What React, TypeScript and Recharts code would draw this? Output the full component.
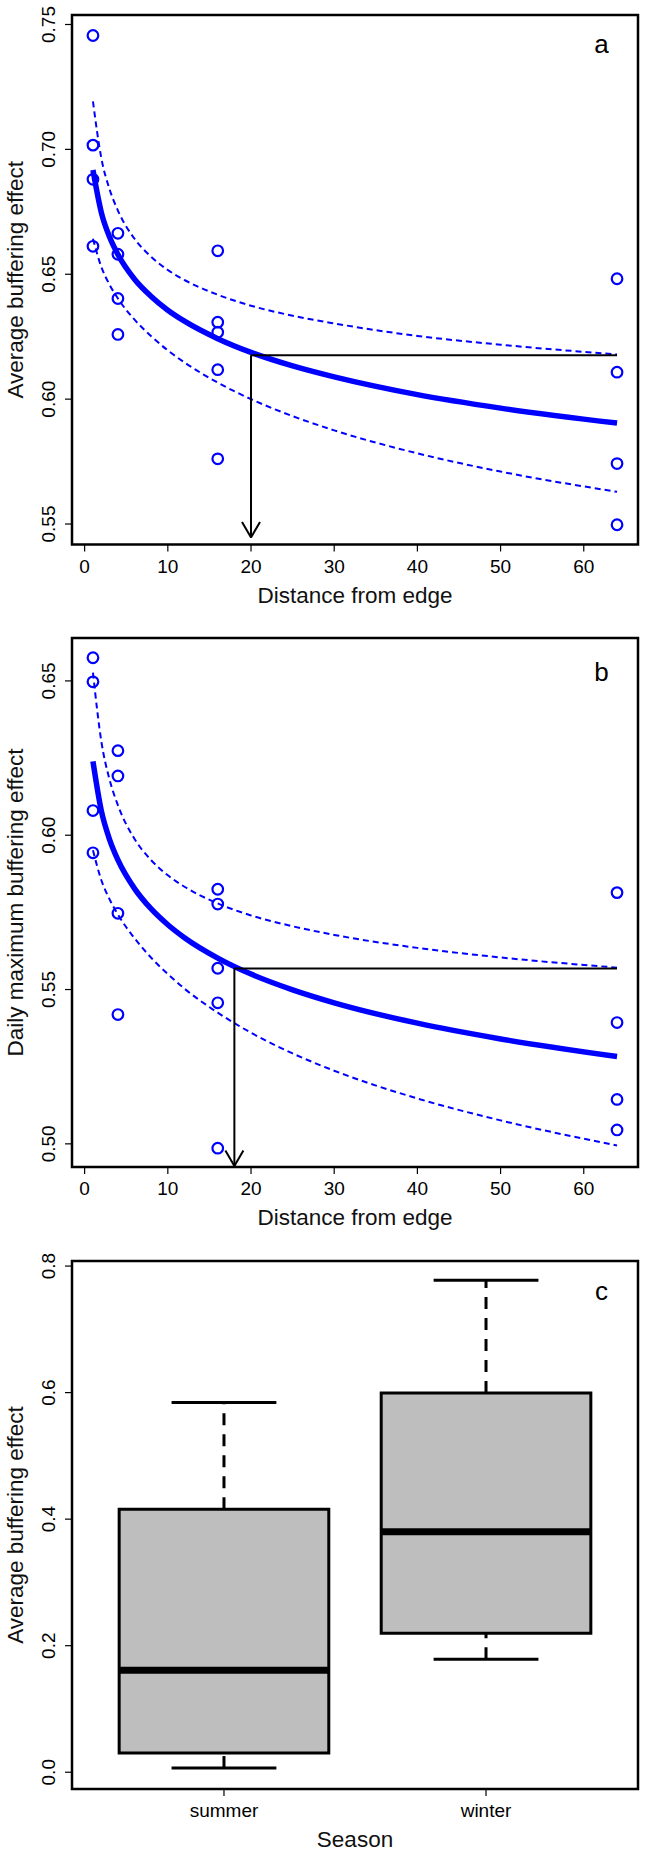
import { ComposedChart, Scatter, Line, XAxis, YAxis, ReferenceLine, ReferenceArea, Label } from 'recharts'

const FONT = '"Liberation Sans", Arial, Helvetica, sans-serif'
const BLUE = '#0000ff'

// observations, panel a (average buffering) and b (daily maximum buffering)
const AVG_X = [1, 1, 1, 1, 4, 4, 4, 4, 16, 16, 16, 16, 16, 64, 64, 64, 64]
const AVG_Y = [0.7456, 0.7017, 0.688, 0.6612, 0.6664, 0.658, 0.6403, 0.6259, 0.6594, 0.6308, 0.6268, 0.6118, 0.5761, 0.6482, 0.6108, 0.5742, 0.5497]
const MAX_X = [1, 1, 1, 1, 4, 4, 4, 4, 16, 16, 16, 16, 16, 64, 64, 64, 64]
const MAX_Y = [0.6575, 0.6497, 0.608, 0.5943, 0.6274, 0.6192, 0.5747, 0.5419, 0.5825, 0.5777, 0.5569, 0.5457, 0.4986, 0.5814, 0.5393, 0.5144, 0.5045]

// fitted curve and confidence band
const CURVE_X = [1, 2, 3, 4, 6, 8, 10, 12, 16, 20, 25, 30, 40, 50, 64]
const AVG_FIT = [0.6917, 0.6748, 0.6649, 0.6579, 0.648, 0.6411, 0.6356, 0.6312, 0.6242, 0.6187, 0.6133, 0.6089, 0.6018, 0.5964, 0.5904]
const AVG_UPPER = [0.7192, 0.6966, 0.684, 0.6755, 0.6642, 0.657, 0.6517, 0.6477, 0.6418, 0.6374, 0.6334, 0.6303, 0.6253, 0.6218, 0.6179]
const AVG_LOWER = [0.6642, 0.653, 0.6458, 0.6403, 0.6318, 0.6252, 0.6195, 0.6147, 0.6066, 0.6, 0.5932, 0.5875, 0.5783, 0.571, 0.5629]
const MAX_FIT = [0.6239, 0.608, 0.5986, 0.592, 0.5827, 0.5761, 0.571, 0.5668, 0.5602, 0.555, 0.5499, 0.5457, 0.5391, 0.534, 0.5283]
const MAX_UPPER = [0.6527, 0.6305, 0.618, 0.6097, 0.5988, 0.5919, 0.587, 0.5833, 0.5779, 0.574, 0.5705, 0.5677, 0.5635, 0.5604, 0.5571]
const MAX_LOWER = [0.5951, 0.5855, 0.5792, 0.5743, 0.5666, 0.5603, 0.555, 0.5503, 0.5425, 0.536, 0.5293, 0.5237, 0.5147, 0.5076, 0.4995]

// threshold arrows: [distance, level, arrow tip, end of horizontal]
const AVG_ARROW = [20, 0.6176, 0.5446, 64]
const MAX_ARROW = [18, 0.5568, 0.4928, 64]

const DIST_TICKS = [0, 10, 20, 30, 40, 50, 60]
const AVG_TICKS = [0.55, 0.6, 0.65, 0.7, 0.75]
const MAX_TICKS = [0.5, 0.55, 0.6, 0.65]

// panel c boxplot
const SEASONS = ['summer', 'winter']
const WHISK_LO = [0.0066, 0.1787]
const Q1 = [0.0303, 0.2196]
const MEDIAN = [0.161, 0.38]
const Q3 = [0.4155, 0.5995]
const WHISK_HI = [0.5843, 0.7776]
const SEASON_TICKS = [0, 0.2, 0.4, 0.6, 0.8]

const X_DOMAIN: [number, number] = [-1.52, 66.52]
const zip = (xs: number[], ys: number[]) => xs.map((x, i) => ({ x, y: ys[i] }))

function YTick({ x, y, payload, digits }: any) {
  return (
    <text x={x} y={y} transform={`rotate(-90, ${x}, ${y})`} textAnchor="middle" fontFamily={FONT} fontSize={19} fill="#000">
      {Number(payload.value).toFixed(digits)}
    </text>
  )
}

function XTick({ x, y, payload, names }: any) {
  const txt = names ? names[payload.value - 1] : String(payload.value)
  return (
    <text x={x} y={y} textAnchor="middle" fontFamily={FONT} fontSize={19} fill="#000">
      {txt}
    </text>
  )
}

const xTitle = (text: string) => (props: any) => {
  const vb = props.viewBox
  return (
    <text x={vb.x + vb.width / 2} y={vb.y + 58} textAnchor="middle" fontFamily={FONT} fontSize={22.5} fill="#111">
      {text}
    </text>
  )
}

const yTitle = (text: string) => (props: any) => {
  const vb = props.viewBox
  const cy = vb.y + vb.height / 2
  return (
    <text x={22.5} y={cy} transform={`rotate(-90, 22.5, ${cy})`} textAnchor="middle" fontFamily={FONT} fontSize={22.5} fill="#111">
      {text}
    </text>
  )
}

const Ring = (p: any) => <circle cx={p.cx} cy={p.cy} r={5.3} fill="none" stroke={BLUE} strokeWidth={2.2} />

const ArrowShape = (p: any) => {
  const { x1, y1, x2, y2 } = p
  return (
    <g stroke="#000" strokeWidth={2} fill="none">
      <line x1={x1} y1={y1} x2={x2} y2={y2} />
      <line x1={x2 - 9} y1={y2 - 15.6} x2={x2} y2={y2} />
      <line x1={x2 + 9} y1={y2 - 15.6} x2={x2} y2={y2} />
    </g>
  )
}

interface CurvePanelProps {
  top: number
  height: number
  marginTop: number
  axisHeight: number
  xs: number[]
  ys: number[]
  fit: number[]
  upper: number[]
  lower: number[]
  arrow: number[]
  yDomain: [number, number]
  yTicks: number[]
  yLabel: string
  letter: string
  letterY: number
}

function CurvePanel(p: CurvePanelProps) {
  const [ax, level, tip, xEnd] = p.arrow
  return (
    <div style={{ position: 'absolute', left: 0, top: p.top }}>
      <ComposedChart width={647} height={p.height} margin={{ top: p.marginTop, right: 9, left: 0, bottom: 0 }}>
        <XAxis
          type="number"
          dataKey="x"
          domain={X_DOMAIN}
          allowDataOverflow
          ticks={DIST_TICKS}
          height={p.axisHeight}
          axisLine={false}
          tickLine={{ stroke: '#000', strokeWidth: 1.2 }}
          tickSize={7}
          tickMargin={21}
          tick={(t: any) => <XTick {...t} />}
        >
          <Label content={xTitle('Distance from edge')} />
        </XAxis>
        <YAxis
          type="number"
          dataKey="y"
          domain={p.yDomain}
          allowDataOverflow
          ticks={p.yTicks}
          width={72}
          axisLine={false}
          tickLine={{ stroke: '#000', strokeWidth: 1.2 }}
          tickSize={7}
          tickMargin={10}
          tick={(t: any) => <YTick {...t} digits={2} />}
        >
          <Label content={yTitle(p.yLabel)} />
        </YAxis>
        <Line data={zip(CURVE_X, p.upper)} dataKey="y" type="monotone" stroke={BLUE} strokeWidth={2} strokeDasharray="6 4" dot={false} isAnimationActive={false} />
        <Line data={zip(CURVE_X, p.lower)} dataKey="y" type="monotone" stroke={BLUE} strokeWidth={2} strokeDasharray="6 4" dot={false} isAnimationActive={false} />
        <Line data={zip(CURVE_X, p.fit)} dataKey="y" type="monotone" stroke={BLUE} strokeWidth={5.5} dot={false} isAnimationActive={false} />
        <Scatter data={zip(p.xs, p.ys)} dataKey="y" shape={Ring} isAnimationActive={false} />
        <ReferenceLine segment={[{ x: ax, y: level }, { x: xEnd, y: level }]} stroke="#000" strokeWidth={2} />
        <ReferenceLine segment={[{ x: ax, y: level }, { x: ax, y: tip }]} shape={ArrowShape} />
        <ReferenceArea x1={X_DOMAIN[0]} x2={X_DOMAIN[1]} y1={p.yDomain[0]} y2={p.yDomain[1]} fill="none" stroke="#000" strokeWidth={2.5} ifOverflow="visible" />
        <text x={601.6} y={p.letterY} textAnchor="middle" fontFamily={FONT} fontSize={26} fill="#000">
          {p.letter}
        </text>
      </ComposedChart>
    </div>
  )
}

const BOX_HALF = 0.4
const CAP_HALF = 0.2
const C_X_DOMAIN: [number, number] = [0.42, 2.58]
const C_Y_DOMAIN: [number, number] = [-0.0265, 0.808]

function BoxPanel() {
  return (
    <div style={{ position: 'absolute', left: 0, top: 1240 }}>
      <ComposedChart width={647} height={616} margin={{ top: 21, right: 9, left: 0, bottom: 0 }}>
        <XAxis
          type="number"
          dataKey="x"
          domain={C_X_DOMAIN}
          allowDataOverflow
          ticks={[1, 2]}
          height={67}
          axisLine={false}
          tickLine={{ stroke: '#000', strokeWidth: 1.2 }}
          tickSize={7}
          tickMargin={21}
          tick={(t: any) => <XTick {...t} names={SEASONS} />}
        >
          <Label content={xTitle('Season')} />
        </XAxis>
        <YAxis
          type="number"
          dataKey="y"
          domain={C_Y_DOMAIN}
          allowDataOverflow
          ticks={SEASON_TICKS}
          width={72}
          axisLine={false}
          tickLine={{ stroke: '#000', strokeWidth: 1.2 }}
          tickSize={7}
          tickMargin={10}
          tick={(t: any) => <YTick {...t} digits={1} />}
        >
          <Label content={yTitle('Average buffering effect')} />
        </YAxis>
        {SEASONS.map((s, i) => (
          <ReferenceLine key={s + 'wl'} segment={[{ x: i + 1, y: WHISK_LO[i] }, { x: i + 1, y: Q1[i] }]} stroke="#000" strokeWidth={3} strokeDasharray="12 9" />
        ))}
        {SEASONS.map((s, i) => (
          <ReferenceLine key={s + 'wh'} segment={[{ x: i + 1, y: Q3[i] }, { x: i + 1, y: WHISK_HI[i] }]} stroke="#000" strokeWidth={3} strokeDasharray="12 9" />
        ))}
        {SEASONS.map((s, i) => (
          <ReferenceArea key={s + 'box'} x1={i + 1 - BOX_HALF} x2={i + 1 + BOX_HALF} y1={Q1[i]} y2={Q3[i]} fill="#bebebe" fillOpacity={1} stroke="#000" strokeWidth={3} />
        ))}
        {SEASONS.map((s, i) => (
          <ReferenceLine key={s + 'med'} segment={[{ x: i + 1 - BOX_HALF, y: MEDIAN[i] }, { x: i + 1 + BOX_HALF, y: MEDIAN[i] }]} stroke="#000" strokeWidth={7} />
        ))}
        {SEASONS.map((s, i) => (
          <ReferenceLine key={s + 'cl'} segment={[{ x: i + 1 - CAP_HALF, y: WHISK_LO[i] }, { x: i + 1 + CAP_HALF, y: WHISK_LO[i] }]} stroke="#000" strokeWidth={3} />
        ))}
        {SEASONS.map((s, i) => (
          <ReferenceLine key={s + 'ch'} segment={[{ x: i + 1 - CAP_HALF, y: WHISK_HI[i] }, { x: i + 1 + CAP_HALF, y: WHISK_HI[i] }]} stroke="#000" strokeWidth={3} />
        ))}
        <ReferenceArea x1={C_X_DOMAIN[0]} x2={C_X_DOMAIN[1]} y1={C_Y_DOMAIN[0]} y2={C_Y_DOMAIN[1]} fill="none" stroke="#000" strokeWidth={2.5} ifOverflow="visible" />
        <text x={601.6} y={60} textAnchor="middle" fontFamily={FONT} fontSize={26} fill="#000">
          c
        </text>
      </ComposedChart>
    </div>
  )
}

export default function App() {
  return (
    <div style={{ position: 'absolute', left: 0, top: 0, width: 647, height: 1856, background: '#fff' }}>
      <CurvePanel
        top={0}
        height={620}
        marginTop={15}
        axisHeight={75.5}
        xs={AVG_X}
        ys={AVG_Y}
        fit={AVG_FIT}
        upper={AVG_UPPER}
        lower={AVG_LOWER}
        arrow={AVG_ARROW}
        yDomain={[0.5418, 0.7538]}
        yTicks={AVG_TICKS}
        yLabel="Average buffering effect"
        letter="a"
        letterY={53}
      />
      <CurvePanel
        top={620}
        height={620}
        marginTop={18}
        axisHeight={73}
        xs={MAX_X}
        ys={MAX_Y}
        fit={MAX_FIT}
        upper={MAX_UPPER}
        lower={MAX_LOWER}
        arrow={MAX_ARROW}
        yDomain={[0.4925, 0.6639]}
        yTicks={MAX_TICKS}
        yLabel="Daily maximum buffering effect"
        letter="b"
        letterY={61}
      />
      <BoxPanel />
    </div>
  )
}
